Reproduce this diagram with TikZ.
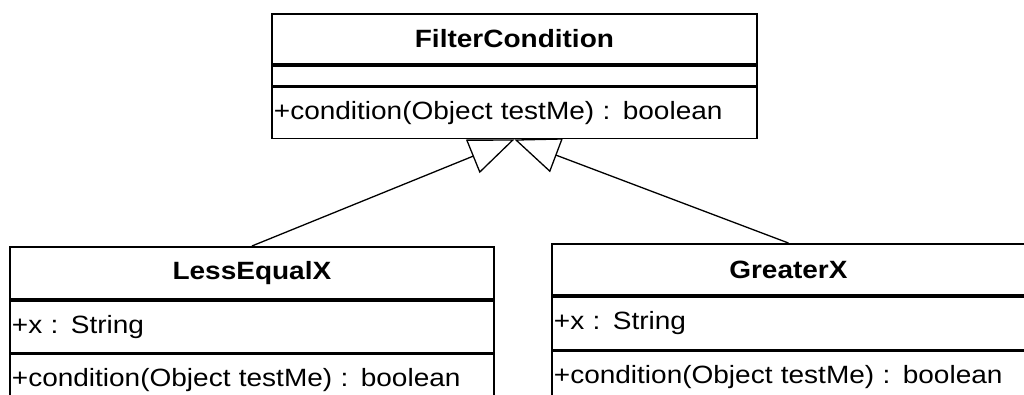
\documentclass[tikz,border=0pt]{standalone}
\usepackage{fontspec}
\newfontfamily\umlfont{Liberation Sans}[FakeStretch=1.12]
\usetikzlibrary{arrows.meta,backgrounds}
\tikzset{
  comp/.style={draw, line width=1.8pt, fill=white, anchor=north west,
    inner ysep=0pt, inner xsep=2pt, align=left,
    font=\umlfont\fontsize{25}{30}\selectfont},
  hdr/.style={comp, align=center, font=\umlfont\bfseries\fontsize{25}{30}\selectfont},
  gen/.style={line width=1.3pt, -{Triangle[open, length=45pt, width=36pt, fill=white]}}
}
\begin{document}
\begin{tikzpicture}[x=1pt, y=-1pt]
\path[use as bounding box, clip] (0,0) rectangle (1024,394);
% FilterCondition
\node[hdr, text width=481pt, minimum height=50pt] (fcH) at (271,13) {FilterCondition};
\node[comp, text width=481pt, minimum height=20pt] (fcA) at (fcH.south west) {};
\node[comp, text width=481pt, minimum height=51pt] (fcM) at (fcA.south west) {+condition(Object testMe) : boolean};
% LessEqualX
\node[hdr, text width=480pt, minimum height=52pt] (leH) at (9,246) {LessEqualX};
\node[comp, text width=480pt, minimum height=52pt] (leA) at (leH.south west) {+x : String};
\node[comp, text width=480pt, minimum height=52pt] (leM) at (leA.south west) {+condition(Object testMe) : boolean};
% GreaterX
\node[hdr, text width=469pt, minimum height=51pt] (gxH) at (551,243) {GreaterX};
\node[comp, text width=469pt, minimum height=53pt] (gxA) at (gxH.south west) {+x : String};
\node[comp, text width=469pt, minimum height=52pt] (gxM) at (gxA.south west) {+condition(Object testMe) : boolean};
% generalizations
\begin{scope}[on background layer]
\draw[gen] (leH.north) -- (fcM.south);
\draw[gen] (gxH.north) -- (fcM.south);
\end{scope}
\end{tikzpicture}
\end{document}
